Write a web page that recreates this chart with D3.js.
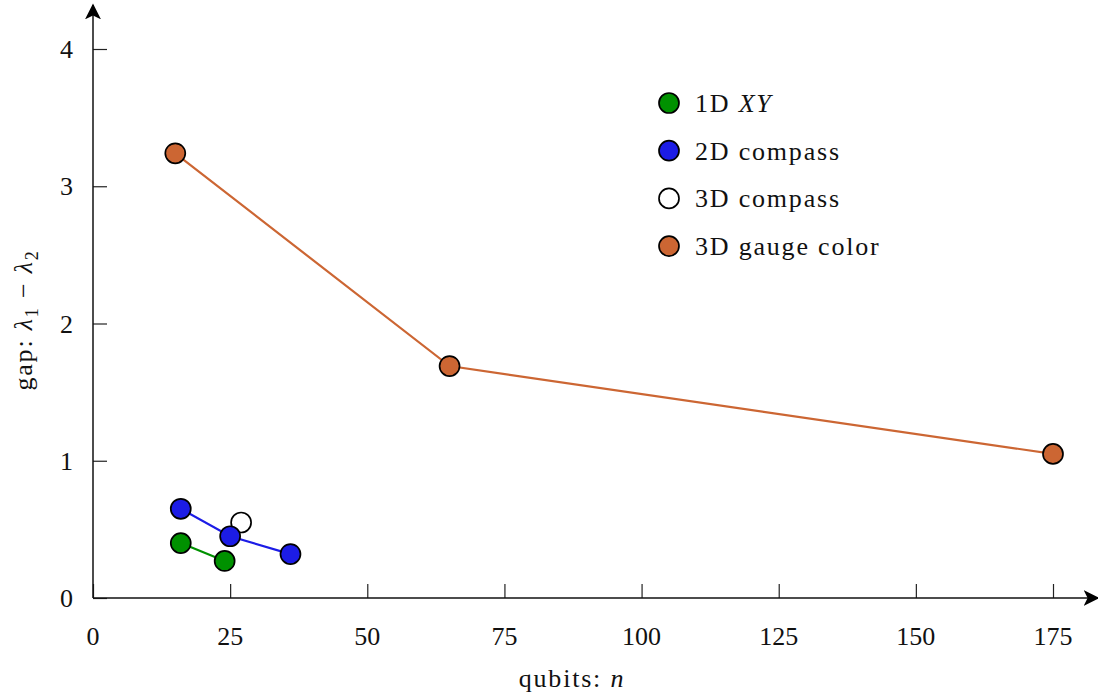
<!DOCTYPE html>
<html>
<head>
<meta charset="utf-8">
<script src="https://cdn.jsdelivr.net/npm/d3@7"></script>
<style>
body { margin: 0; background: #fff; }
text { font-family: "Liberation Serif", "DejaVu Serif", serif; fill: #111; font-size: 26px; }
.words { letter-spacing: 1.8px; }
</style>
</head>
<body>
<div id="chart"></div>
<script>
// data
var xTicks = [0, 25, 50, 75, 100, 125, 150, 175];
var yTicks = [0, 1, 2, 3, 4];

var xyQubits = [16, 24];
var xyGap = [0.40, 0.27];
var compass2Qubits = [16, 25, 36];
var compass2Gap = [0.65, 0.45, 0.32];
var compass3Qubits = [27];
var compass3Gap = [0.55];
var gaugeQubits = [15, 65, 175];
var gaugeGap = [3.24, 1.69, 1.05];

var seriesNames = ["1D XY", "2D compass", "3D compass", "3D gauge color"];

var svg = d3.select('#chart')
    .append('svg')
    .attr('width', 1098)
    .attr('height', 698);

var margin = { top: 49, right: 45, bottom: 100, left: 93 };
var width = 1098 - margin.left - margin.right;
var height = 698 - margin.top - margin.bottom;

var g = svg.append("g").attr("transform", "translate(" + margin.left + "," + margin.top + ")");

var x = d3.scaleLinear().domain([0, 175]).range([0, 960]);
var y = d3.scaleLinear().domain([0, 4]).range([height, 0]);

var series = [
    { name: seriesNames[0], xs: xyQubits, ys: xyGap, color: "#009100", line: true },
    { name: seriesNames[1], xs: compass2Qubits, ys: compass2Gap, color: "#1c1ce6", line: true },
    { name: seriesNames[2], xs: compass3Qubits, ys: compass3Gap, color: "#ffffff", line: false },
    { name: seriesNames[3], xs: gaugeQubits, ys: gaugeGap, color: "#cc6633", line: true }
];

// axes with inward ticks
var xAxis = g.append("g").attr("transform", "translate(0," + height + ")")
    .call(d3.axisTop(x).tickValues(xTicks).tickSize(14).tickFormat(""));
xAxis.select(".domain").remove();
xAxis.selectAll("line").attr("stroke", "#222").attr("stroke-width", 1.2);

var yAxis = g.append("g")
    .call(d3.axisRight(y).tickValues(yTicks).tickSize(14).tickFormat(""));
yAxis.select(".domain").remove();
yAxis.selectAll("line").attr("stroke", "#222").attr("stroke-width", 1.2);

g.selectAll(".xlab").data(xTicks).enter().append("text")
    .attr("x", function (d) { return x(d); })
    .attr("y", height + 47)
    .attr("text-anchor", "middle")
    .text(function (d) { return d; });

g.selectAll(".ylab").data(yTicks).enter().append("text")
    .attr("x", -20)
    .attr("y", function (d) { return y(d) + 9; })
    .attr("text-anchor", "end")
    .text(function (d) { return d; });

// axis lines with arrows
svg.append("defs").append("marker")
    .attr("id", "arrow")
    .attr("viewBox", "0 0 10 10")
    .attr("refX", 9).attr("refY", 5)
    .attr("markerWidth", 16).attr("markerHeight", 16)
    .attr("markerUnits", "userSpaceOnUse")
    .attr("orient", "auto")
    .append("path")
    .attr("d", "M0,0 L10,5 L0,10 L2.5,5 Z")
    .attr("fill", "#000");

g.append("line")
    .attr("x1", 0).attr("y1", height).attr("x2", 1005).attr("y2", height)
    .attr("stroke", "#111").attr("stroke-width", 1.5)
    .attr("marker-end", "url(#arrow)");
g.append("line")
    .attr("x1", 0).attr("y1", height).attr("x2", 0).attr("y2", -44)
    .attr("stroke", "#111").attr("stroke-width", 1.5)
    .attr("marker-end", "url(#arrow)");

// lines
var line = d3.line()
    .x(function (d) { return x(d[0]); })
    .y(function (d) { return y(d[1]); });

series.forEach(function (s) {
    var pts = s.xs.map(function (v, i) { return [v, s.ys[i]]; });
    if (s.line) {
        g.append("path").datum(pts)
            .attr("fill", "none")
            .attr("stroke", s.color)
            .attr("stroke-width", 2.2)
            .attr("d", line);
    }
});

// markers; 3D compass under the 2D compass
var drawOrder = [3, 2, 0, 1];
drawOrder.forEach(function (k) {
    var s = series[k];
    var pts = s.xs.map(function (v, i) { return [v, s.ys[i]]; });
    g.selectAll(null).data(pts).enter().append("circle")
        .attr("cx", function (d) { return x(d[0]); })
        .attr("cy", function (d) { return y(d[1]); })
        .attr("r", 10)
        .attr("fill", s.color)
        .attr("stroke", "#000")
        .attr("stroke-width", 1.7);
});

// legend
var legend = svg.append("g").attr("transform", "translate(669,103)");
series.forEach(function (s, i) {
    var row = legend.append("g").attr("transform", "translate(0," + (i * 47.7) + ")");
    row.append("circle").attr("r", 10).attr("fill", s.color)
        .attr("stroke", "#000").attr("stroke-width", 1.7);
    var t = row.append("text").attr("class", "words").attr("x", 26).attr("y", 9);
    if (i === 0) {
        t.append("tspan").text("1D ");
        t.append("tspan").style("font-style", "italic").text("XY");
    } else {
        t.text(s.name);
    }
});

// axis titles
svg.append("text")
    .attr("class", "words")
    .attr("x", 572).attr("y", 687)
    .attr("text-anchor", "middle")
    .html('qubits: <tspan font-style="italic">n</tspan>');

var yt = svg.append("text")
    .attr("class", "words")
    .attr("transform", "translate(32,320) rotate(-90)")
    .attr("text-anchor", "middle");
yt.append("tspan").text("gap: ");
yt.append("tspan").style("font-style", "italic").text("λ");
yt.append("tspan").attr("dy", 6).style("font-size", "18px").text("1");
yt.append("tspan").attr("dy", -6).text(" − ");
yt.append("tspan").style("font-style", "italic").text("λ");
yt.append("tspan").attr("dy", 6).style("font-size", "18px").text("2");
</script>
</body>
</html>
